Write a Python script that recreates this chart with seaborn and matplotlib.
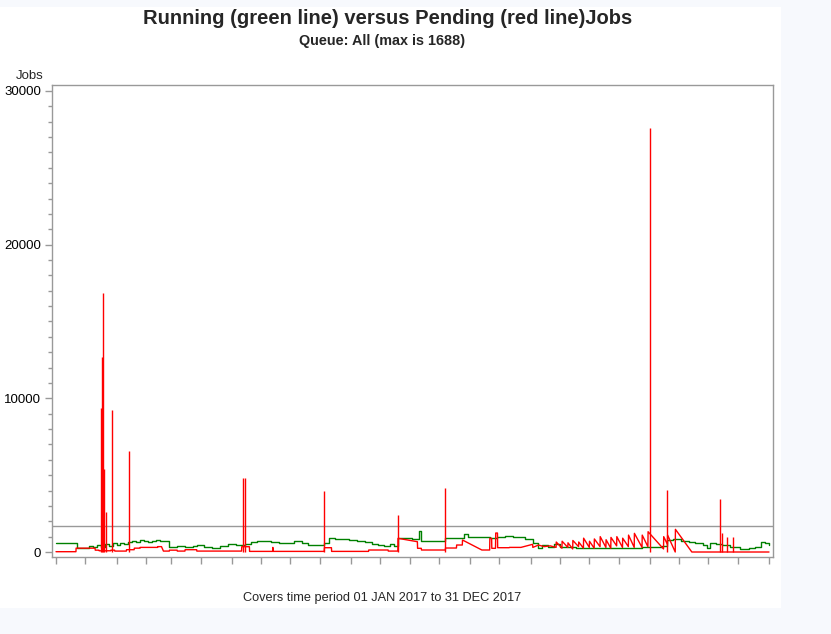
import numpy as np
import pandas as pd
import seaborn as sns
import matplotlib.pyplot as plt
from matplotlib.patches import Rectangle
from matplotlib.ticker import MultipleLocator, FixedLocator

# running jobs (green), day of year -> value
run_day = [0, 10, 10.5, 14, 17, 19, 21, 23, 25, 27, 29, 31, 33, 35, 37, 39, 41, 43, 45, 47,
           49, 51, 53, 55, 58, 62, 66, 70, 72, 76, 80, 84, 88, 92, 95, 97, 100, 103, 106, 110,
           114, 118, 122, 126, 129, 133, 137, 140, 143, 146, 150, 154, 158, 162, 165, 168, 171,
           173, 175, 178, 182, 186, 187, 192, 197, 199, 204, 208, 209, 211, 215, 219, 222, 226,
           230, 234, 237, 240, 244, 247, 249, 252, 255, 258, 262, 266, 271, 275, 280, 285, 290,
           295, 300, 305, 310, 313, 316, 320, 324, 327, 331, 333.5, 335, 338, 341, 345, 350,
           355, 358, 361, 363, 365]
run_val = [580, 580, 230, 260, 380, 300, 470, 350, 520, 420, 600, 450, 560, 500, 620, 700, 640,
           780, 700, 620, 690, 760, 700, 720, 350, 400, 330, 380, 450, 320, 280, 400, 520, 470,
           450, 520, 640, 700, 720, 640, 580, 560, 700, 600, 450, 480, 600, 900, 850, 820, 760,
           700, 620, 520, 450, 380, 500, 420, 930, 900, 850, 1350, 720, 700, 720, 900, 880, 900,
           1150, 1000, 1000, 950, 900, 950, 1050, 980, 1000, 820, 560, 250, 450, 350, 500, 350,
           300, 250, 240, 230, 240, 250, 240, 230, 350, 340, 400, 780, 820, 730, 650, 560, 450,
           240, 600, 520, 450, 300, 180, 250, 350, 680, 600, 450]

# pending jobs (red) base line, drawn point to point
pend_day = [0, 10.2, 10.3, 20, 20.1, 22, 22.1, 28, 28.1, 30, 30.1, 36, 36.1, 40, 40.1, 43,
            43.1, 52, 52.1, 54, 55, 58, 58.1, 62, 62.1, 66, 66.1, 72, 72.1, 95, 95.1, 99, 99.1,
            110.9, 111, 111.1, 137.3, 137.4, 141, 141.1, 160, 160.1, 170, 170.1, 175, 175.1,
            185, 185.1, 187, 187.1, 199.3, 199.4, 205, 205.1, 208, 208.1, 218, 222, 222.1, 223,
            223.1, 225, 225.1, 226, 226.1, 232, 232.1, 238, 244, 244.1, 247, 250, 253, 256,
            256.1, 259, 259.1, 262, 262.1, 264.5, 264.6, 267.5, 267.6, 270, 270.1, 273, 273.1,
            275.5, 275.6, 278.5, 278.6, 281.5, 281.6, 284, 284.1, 287, 287.1, 290, 290.1, 293,
            293.1, 296, 296.1, 300, 300.1, 303, 303.1, 311, 311.1, 313, 313.1, 317, 317.1,
            325.5, 365]
pend_val = [20, 20, 250, 250, 120, 120, 80, 80, 120, 120, 60, 60, 150, 150, 250, 250,
            300, 300, 350, 350, 60, 60, 120, 120, 60, 60, 150, 150, 60, 60, 345, 345, 40,
            40, 300, 40, 40, 280, 280, 40, 40, 130, 130, 60, 60, 890,
            670, 240, 240, 130, 130, 260, 260, 455, 455, 780, 130, 130, 890, 890,
            240, 240, 1235, 1235, 280, 280, 300, 300, 500, 300, 450, 350, 400, 300,
            650, 250, 700, 300, 600, 200, 750, 350, 650, 250, 900, 300, 700,
            250, 850, 350, 1000, 300, 800, 250, 950, 400, 1000, 300, 900, 350,
            1100, 300, 1215, 300, 1100, 350, 1320, 200, 1000, 500, 1100, 0, 1475,
            0, 0]

# red spikes
spike_day = [23.2, 23.7, 24.2, 24.6, 25.6, 28.5, 37.5, 95.7, 96.7, 137.2, 175.1, 199.2,
             304.1, 312.9, 340.0, 341.0, 343.5, 346.5]
spike_val = [9370, 12700, 16870, 5400, 2620, 9240, 6590, 4800, 4800, 4000, 2400, 4160,
             27590, 4030, 3430, 1215, 1000, 980]

max_jobs = 1688

df_run = pd.DataFrame({'day': run_day, 'jobs': run_val})
df_pend = pd.DataFrame({'day': pend_day, 'jobs': pend_val})

sns.set_style('white')
plt.rcParams['font.family'] = ['Liberation Sans', 'DejaVu Sans']

fig = plt.figure(figsize=(8.31, 6.34), dpi=100)
fig.patch.set_facecolor('#F7F9FD')
fig.patches.append(Rectangle((0, 26 / 634), 781 / 831, 601 / 634, transform=fig.transFigure,
                             facecolor='white', edgecolor='none', zorder=-5))

ax = fig.add_axes([52 / 831, 1 - 557 / 634, 721 / 831, 472 / 634])
ax.set_zorder(2)
ax.set_facecolor('white')

ax.axhline(max_jobs, color='#999999', lw=1, zorder=1)
sns.lineplot(data=df_run, x='day', y='jobs', color='#008000', lw=1, estimator=None,
             sort=False, drawstyle='steps-post', ax=ax, zorder=3)
sns.lineplot(data=df_pend, x='day', y='jobs', color='#FF0000', lw=1, estimator=None,
             sort=False, ax=ax, zorder=4)
ax.vlines(spike_day, 0, spike_val, color='#FF0000', lw=1, zorder=4)

ax.set_xlim(-2.05, 367.05)
ax.set_ylim(-325, 30390)

# semi-monthly ticks
tick_dates = []
for m in range(1, 13):
    tick_dates.append(pd.Timestamp(2017, m, 1))
    tick_dates.append(pd.Timestamp(2017, m, 16))
tick_dates.append(pd.Timestamp(2018, 1, 1))
tick_pos = [(d - pd.Timestamp(2017, 1, 1)).days for d in tick_dates]
ax.xaxis.set_major_locator(FixedLocator(tick_pos))
ax.set_xticklabels([])
ax.yaxis.set_major_locator(MultipleLocator(10000))
ax.yaxis.set_minor_locator(MultipleLocator(1000))
ax.set_yticks([0, 10000, 20000, 30000])
ax.set_yticklabels(['0', '10000', '20000', '30000'])

ax.tick_params(axis='both', which='major', length=5, width=1, color='#999999',
               labelsize=9.5, labelcolor='black', pad=3)
ax.tick_params(axis='y', which='minor', length=3, width=1, color='#999999', left=True)
ax.tick_params(axis='x', bottom=True)
ax.tick_params(axis='y', left=True)
for s in ax.spines.values():
    s.set_color('#999999')
    s.set_linewidth(1)

ax.set_xlabel('')
ax.set_ylabel('')

fig.text(30 / 831, 1 - 76 / 634, 'Jobs', ha='center', va='center', fontsize=9.5)
fig.text(388 / 831, 1 - 19 / 634, 'Running (green line) versus Pending (red line)Jobs',
         ha='center', va='center', fontsize=14.5, fontweight='bold')
fig.text(382 / 831, 1 - 41 / 634, 'Queue: All (max is 1688)', ha='center', va='center',
         fontsize=10.4, fontweight='bold')
fig.text(382 / 831, 1 - 598 / 634, 'Covers time period 01 JAN 2017 to 31 DEC 2017',
         ha='center', va='center', fontsize=9.2)

fig.savefig('out.png', dpi=100, facecolor=fig.get_facecolor())
